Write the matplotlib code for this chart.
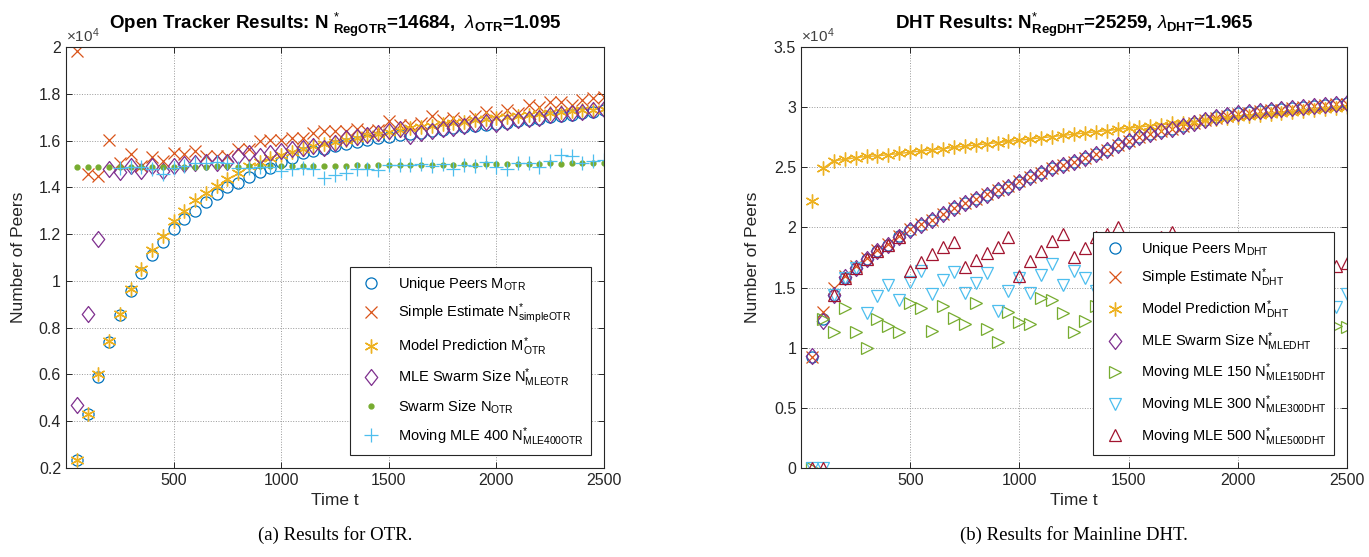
import matplotlib
matplotlib.use("Agg")
import matplotlib.pyplot as plt
from matplotlib.path import Path

plt.rcParams["font.family"] = ["Liberation Sans", "DejaVu Sans"]
plt.rcParams["mathtext.fontset"] = "custom"
plt.rcParams["mathtext.rm"] = "Liberation Sans"
plt.rcParams["mathtext.it"] = "Liberation Sans:italic"
plt.rcParams["mathtext.bf"] = "Liberation Sans:bold"

# time axis, one sample every 50 steps
t = list(range(50, 2501, 50))
t_mle400 = list(range(250, 2501, 50))

# ---- OTR (values in units of 1e4) ----
m_otr = [0.235, 0.43, 0.59, 0.74, 0.855, 0.955, 1.035, 1.11, 1.165, 1.223,
         1.265, 1.30, 1.339, 1.371, 1.40, 1.42, 1.445, 1.466, 1.484, 1.508,
         1.527, 1.545, 1.555, 1.565, 1.576, 1.586, 1.594, 1.604, 1.611, 1.617,
         1.622, 1.628, 1.634, 1.64, 1.646, 1.652, 1.657, 1.662, 1.667, 1.672,
         1.677, 1.683, 1.688, 1.694, 1.699, 1.705, 1.711, 1.716, 1.722, 1.73]
n_simple_otr = [1.983, 1.456, 1.449, 1.604, 1.505, 1.541, 1.491, 1.531, 1.512, 1.548,
                1.541, 1.555, 1.534, 1.534, 1.534, 1.562, 1.562, 1.597, 1.604, 1.604,
                1.611, 1.611, 1.632, 1.64, 1.64, 1.64, 1.649, 1.64, 1.647, 1.682,
                1.668, 1.668, 1.675, 1.703, 1.689, 1.696, 1.682, 1.703, 1.724, 1.703,
                1.731, 1.717, 1.752, 1.745, 1.767, 1.767, 1.752, 1.774, 1.781, 1.788]
m_pred_otr = [0.235, 0.43, 0.60, 0.745, 0.86, 0.965, 1.05, 1.13, 1.19, 1.255,
              1.30, 1.345, 1.375, 1.407, 1.435, 1.463, 1.49, 1.51, 1.525, 1.54,
              1.553, 1.565, 1.575, 1.585, 1.595, 1.604, 1.613, 1.622, 1.63, 1.638,
              1.645, 1.652, 1.658, 1.664, 1.67, 1.676, 1.681, 1.686, 1.691, 1.696,
              1.70, 1.705, 1.71, 1.714, 1.718, 1.722, 1.726, 1.729, 1.732, 1.735]
n_mle_otr = [0.47, 0.86, 1.18, 1.48, 1.465, 1.49, 1.47, 1.49, 1.47, 1.49,
             1.50, 1.505, 1.51, 1.505, 1.51, 1.535, 1.545, 1.535, 1.545, 1.555,
             1.565, 1.57, 1.575, 1.57, 1.59, 1.612, 1.615, 1.625, 1.632, 1.643,
             1.65, 1.621, 1.632, 1.643, 1.65, 1.655, 1.662, 1.669, 1.679, 1.669,
             1.679, 1.69, 1.693, 1.697, 1.708, 1.714, 1.719, 1.724, 1.729, 1.735]
n_swarm_otr = [1.485, 1.485, 1.485, 1.486, 1.486, 1.487, 1.486, 1.487, 1.488, 1.487,
               1.488, 1.489, 1.489, 1.49, 1.49, 1.489, 1.49, 1.491, 1.49, 1.491,
               1.492, 1.491, 1.492, 1.493, 1.492, 1.493, 1.494, 1.493, 1.495, 1.494,
               1.495, 1.496, 1.495, 1.497, 1.496, 1.497, 1.498, 1.497, 1.499, 1.498,
               1.499, 1.50, 1.501, 1.50, 1.502, 1.501, 1.503, 1.502, 1.504, 1.505]
n_mle400_otr = [1.484, 1.488, 1.488, 1.477, 1.456, 1.484, 1.491, 1.503, 1.505, 1.508,
                1.505, 1.484, 1.484, 1.488, 1.488, 1.47, 1.477, 1.484, 1.48, 1.438,
                1.452, 1.463, 1.48, 1.48, 1.473, 1.494, 1.494, 1.494, 1.498, 1.491,
                1.498, 1.48, 1.494, 1.491, 1.508, 1.488, 1.477, 1.503, 1.505, 1.488,
                1.512, 1.54, 1.533, 1.503, 1.512, 1.515]

# ---- DHT (values in units of 1e4) ----
m_dht = [0.92, 1.24, 1.44, 1.58, 1.66, 1.735, 1.80, 1.855, 1.925, 1.98,
         2.02, 2.06, 2.11, 2.16, 2.20, 2.235, 2.27, 2.31, 2.34, 2.38,
         2.42, 2.45, 2.49, 2.515, 2.54, 2.575, 2.61, 2.645, 2.685, 2.72,
         2.75, 2.775, 2.80, 2.82, 2.845, 2.865, 2.89, 2.915, 2.935, 2.95,
         2.96, 2.97, 2.978, 2.985, 2.993, 3.002, 3.012, 3.022, 3.03, 3.035]
n_simple_dht = [0.92, 1.30, 1.50, 1.60, 1.68, 1.75, 1.81, 1.865, 1.93, 1.985,
                2.025, 2.065, 2.11, 2.16, 2.205, 2.24, 2.275, 2.31, 2.345, 2.385,
                2.42, 2.455, 2.49, 2.52, 2.545, 2.575, 2.61, 2.645, 2.685, 2.72,
                2.75, 2.775, 2.80, 2.82, 2.845, 2.865, 2.89, 2.91, 2.93, 2.945,
                2.955, 2.965, 2.975, 2.98, 2.99, 3.0, 3.01, 3.02, 3.025, 3.03]
m_pred_dht = [2.22, 2.49, 2.555, 2.565, 2.58, 2.59, 2.595, 2.605, 2.615, 2.625,
              2.635, 2.645, 2.655, 2.665, 2.675, 2.685, 2.695, 2.705, 2.715, 2.725,
              2.735, 2.745, 2.755, 2.765, 2.775, 2.785, 2.795, 2.805, 2.815, 2.825,
              2.835, 2.845, 2.855, 2.865, 2.872, 2.88, 2.89, 2.90, 2.91, 2.918,
              2.926, 2.934, 2.942, 2.95, 2.958, 2.966, 2.974, 2.982, 2.99, 3.0]
n_mle_dht = [0.935, 1.22, 1.44, 1.585, 1.665, 1.735, 1.80, 1.855, 1.92, 1.98,
             2.02, 2.06, 2.11, 2.16, 2.20, 2.235, 2.27, 2.31, 2.34, 2.38,
             2.42, 2.45, 2.49, 2.515, 2.54, 2.575, 2.61, 2.645, 2.685, 2.72,
             2.75, 2.775, 2.80, 2.82, 2.845, 2.865, 2.89, 2.915, 2.935, 2.95,
             2.96, 2.97, 2.978, 2.985, 2.993, 3.002, 3.012, 3.022, 3.03, 3.035]
n_mle150_dht = [0.0, 1.24, 1.13, 1.33, 1.13, 1.00, 1.24, 1.18, 1.13, 1.375,
                1.33, 1.14, 1.35, 1.25, 1.195, 1.375, 1.155, 1.045, 1.30, 1.21,
                1.195, 1.415, 1.395, 1.29, 1.13, 1.22, 1.35, 1.16, 1.27, 1.31,
                1.12, 1.24, 1.38, 1.20, 1.15, 1.33, 1.26, 1.10, 1.28, 1.36,
                1.19, 1.25, 1.40, 1.14, 1.22, 1.33, 1.17, 1.26, 1.18, 1.17]
n_mle300_dht = [0.0, 0.0, 1.44, 1.58, 1.66, 1.29, 1.434, 1.525, 1.396, 1.544,
                1.635, 1.45, 1.56, 1.626, 1.456, 1.54, 1.62, 1.305, 1.47, 1.58,
                1.456, 1.607, 1.70, 1.525, 1.635, 1.58, 1.47, 1.62, 1.55, 1.66,
                1.44, 1.57, 1.64, 1.50, 1.60, 1.68, 1.46, 1.56, 1.63, 1.52,
                1.61, 1.45, 1.55, 1.64, 1.48, 1.58, 1.66, 1.40, 1.34, 1.45]
n_mle500_dht = [0.0, 0.0, 1.44, 1.58, 1.66, 1.735, 1.80, 1.855, 1.92, 1.634,
                1.716, 1.78, 1.835, 1.876, 1.67, 1.733, 1.79, 1.835, 1.917, 1.60,
                1.725, 1.80, 1.89, 1.945, 1.752, 1.83, 1.917, 1.945, 2.0, 1.74,
                1.82, 1.89, 1.917, 1.96, 1.70, 1.77, 1.82, 1.86, 1.89, 1.66,
                1.72, 1.78, 1.83, 1.86, 1.64, 1.70, 1.76, 1.80, 1.683, 1.705]

C_BLUE, C_ORANGE, C_YELLOW = "#0072BD", "#D95319", "#EDB120"
C_PURPLE, C_GREEN, C_CYAN, C_RED = "#7E2F8E", "#77AC30", "#4DBEEE", "#A2142F"
ASTERISK = (6, 2, 0)
# matlab-like diamond, a bit taller than wide
DIAMOND = Path([(0, 1), (0.78, 0), (0, -1), (-0.78, 0), (0, 1)],
               [Path.MOVETO, Path.LINETO, Path.LINETO, Path.LINETO, Path.CLOSEPOLY])

fig = plt.figure(figsize=(13.69, 5.57), dpi=100)
ax1 = fig.add_axes([0.0482, 0.1598, 0.393, 0.7558])
ax2 = fig.add_axes([0.5851, 0.1598, 0.3988, 0.7558])

mk = dict(linestyle="none", markersize=8, markerfacecolor="none", markeredgewidth=0.9)
dmk = dict(linestyle="none", markersize=11.5, markerfacecolor="none", markeredgewidth=0.9)

ax1.plot(t, m_otr, marker="o", color=C_BLUE, label=r"Unique Peers M$_{\mathrm{OTR}}$", **mk)
ax1.plot(t, n_simple_otr, marker="x", color=C_ORANGE, label=r"Simple Estimate N$^{*}_{\mathrm{simpleOTR}}$", **mk)
ax1.plot(t, m_pred_otr, marker=ASTERISK, color=C_YELLOW, label=r"Model Prediction M$^{*}_{\mathrm{OTR}}$",
         linestyle="none", markersize=10, markeredgewidth=1.0)
ax1.plot(t, n_mle_otr, marker=DIAMOND, color=C_PURPLE, label=r"MLE Swarm Size N$^{*}_{\mathrm{MLEOTR}}$", **dmk)
ax1.plot(t, n_swarm_otr, marker=".", color=C_GREEN, linestyle="none", markersize=7,
         label=r"Swarm Size N$_{\mathrm{OTR}}$")
ax1.plot(t_mle400, n_mle400_otr, marker="+", color=C_CYAN, label=r"Moving MLE 400 N$^{*}_{\mathrm{MLE400OTR}}$",
         linestyle="none", markersize=10, markeredgewidth=0.9)

ax2.plot(t[1:], m_pred_dht[1:], color=C_YELLOW, linewidth=1.0)
ax2.plot(t, m_dht, marker="o", color=C_BLUE, label=r"Unique Peers M$_{\mathrm{DHT}}$", **mk)
ax2.plot(t, n_simple_dht, marker="x", color=C_ORANGE, label=r"Simple Estimate N$^{*}_{\mathrm{DHT}}$", **mk)
ax2.plot(t, m_pred_dht, marker=ASTERISK, color=C_YELLOW, label=r"Model Prediction M$^{*}_{\mathrm{DHT}}$",
         linestyle="none", markersize=10, markeredgewidth=1.0)
ax2.plot(t, n_mle_dht, marker=DIAMOND, color=C_PURPLE, label=r"MLE Swarm Size N$^{*}_{\mathrm{MLEDHT}}$", **dmk)
ax2.plot(t, n_mle150_dht, marker=">", color=C_GREEN, label=r"Moving MLE 150 N$^{*}_{\mathrm{MLE150DHT}}$", **mk)
ax2.plot(t, n_mle300_dht, marker="v", color=C_CYAN, label=r"Moving MLE 300 N$^{*}_{\mathrm{MLE300DHT}}$", **mk)
ax2.plot(t, n_mle500_dht, marker="^", color=C_RED, label=r"Moving MLE 500 N$^{*}_{\mathrm{MLE500DHT}}$", **mk)

ax1.set_ylim(0.2, 2.0)
ax1.set_yticks([0.2, 0.4, 0.6, 0.8, 1.0, 1.2, 1.4, 1.6, 1.8, 2.0])
ax1.set_yticklabels(["0.2", "0.4", "0.6", "0.8", "1", "1.2", "1.4", "1.6", "1.8", "2"])
ax2.set_ylim(0, 3.5)
ax2.set_yticks([0, 0.5, 1, 1.5, 2, 2.5, 3, 3.5])
ax2.set_yticklabels(["0", "0.5", "1", "1.5", "2", "2.5", "3", "3.5"])

titles = [r"Open Tracker Results: N $^{*}_{\mathbf{RegOTR}}$=14684,  $\lambda_{\mathbf{OTR}}$=1.095",
          r"DHT Results: N$^{*}_{\mathbf{RegDHT}}$=25259, $\lambda_{\mathbf{DHT}}$=1.965"]
captions = ["(a) Results for OTR.", "(b) Results for Mainline DHT."]

for ax, title, cap in zip([ax1, ax2], titles, captions):
    ax.set_xlim(0, 2500)
    ax.set_xticks([500, 1000, 1500, 2000, 2500])
    ax.tick_params(direction="in", top=True, right=True, labelsize=11.5, length=4,
                   width=0.7, colors="#262626")
    ax.grid(True, linestyle=":", color="#999999", linewidth=0.7)
    for sp in ax.spines.values():
        sp.set_linewidth(0.8)
        sp.set_color("#262626")
    ax.set_xlabel("Time t", fontsize=12.5, color="#262626")
    ax.set_ylabel("Number of Peers", fontsize=12.5, color="#262626")
    ax.set_title(title, fontsize=13.5, fontweight="bold", pad=13)
    ax.text(0.0, 1.004, r"$\times\mathregular{10^4}$", transform=ax.transAxes,
            fontsize=11, color="#404040", va="bottom", ha="left")
    leg = ax.legend(loc="lower right", fontsize=10.5, numpoints=1, fancybox=False,
                    edgecolor="#262626", framealpha=1, borderaxespad=0.9,
                    labelspacing=0.62, handletextpad=0.8, borderpad=0.5)
    leg.get_frame().set_linewidth(0.8)
    bb = ax.get_position()
    fig.text((bb.x0 + bb.x1) / 2, 0.04, cap, ha="center", va="center",
             fontsize=13.5, family=["Liberation Serif", "DejaVu Serif"])

ax1.yaxis.set_label_coords(-0.075, 0.5)
ax2.yaxis.set_label_coords(-0.075, 0.5)

fig.savefig("out.png", dpi=100)
